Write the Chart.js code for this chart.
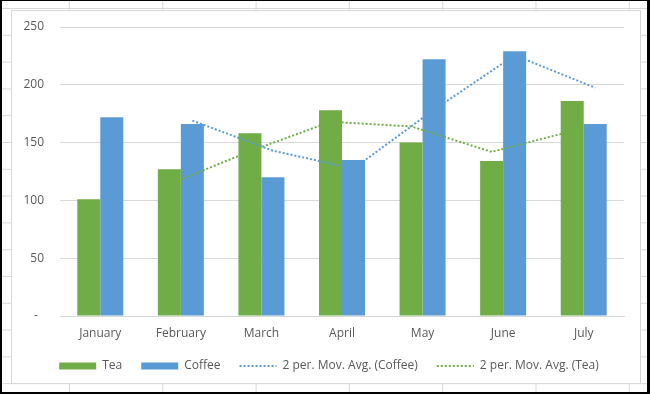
<!DOCTYPE html>
<html>
<head>
<meta charset="utf-8">
<script src="https://cdn.jsdelivr.net/npm/chart.js@4"></script>
<style>
  html, body { margin: 0; padding: 0; background: #fff; }
  #sheet {
    position: absolute; left: 0; top: 0; width: 650px; height: 394px; box-sizing: border-box;
    border-style: solid; border-color: #000; border-width: 1px 3px 2px 2px;
    background-color: #fff;
    background-image: linear-gradient(to right, #d8d8d8 1px, transparent 1px),
                      linear-gradient(to bottom, #d8d8d8 1px, transparent 1px);
    background-size: 93.3px 26.8px;
    background-position: 67px 7px;
  }
  #box {
    position: absolute; left: 11px; top: 10px; width: 628px; height: 372px;
    background: #fff; border: 1px solid #d9d9d9;
  }
  #c { position: absolute; left: 0; top: 0; }
</style>
</head>
<body>
<div id="sheet"></div>
<div id="box"><canvas id="c" width="628" height="372"></canvas></div>
<script>
const categories = ['January', 'February', 'March', 'April', 'May', 'June', 'July'];
const tea = [101, 127, 158, 178, 150, 134, 186];
const coffee = [172, 166, 120, 135, 222, 229, 166];
// 2-period moving averages as read from the dotted trendlines (February..July)
const maCoffee = [null, 169, 143, 127.5, 178.5, 225.5, 197.5];
const maTea = [null, 114, 142.5, 168, 164, 142, 160];
const yTicks = [0, 50, 100, 150, 200, 250];

const GREEN = '#70AD47';
const BLUE = '#5B9BD5';
const TEXT = '#595959';
const GRID = '#d9d9d9';
const groupFrac = 0.571;

// Excel draws each trendline through the centres of its own series' bars:
// move every line point onto the x of the matching bar element.
const alignLines = {
  id: 'alignLines',
  afterLayout(chart) {
    // legend is centred on the whole chart box in the original
    if (chart.legend) { chart.legend.left += 11; chart.legend.right += 11; }
  },
  afterDatasetsUpdate(chart) {
    chart.data.datasets.forEach((ds, k) => {
      if (ds.type !== 'line' || ds.followBar === undefined) return;
      const barMeta = chart.getDatasetMeta(ds.followBar);
      const lineMeta = chart.getDatasetMeta(k);
      lineMeta.data.forEach((pt, i) => {
        const b = barMeta.data[i];
        if (b) pt.x = b.x;
      });
    });
  }
};

Chart.defaults.font.family = '"Open Sans", Lato, sans-serif';
Chart.defaults.font.size = 12;
Chart.defaults.color = TEXT;

const defaultLabels = Chart.defaults.plugins.legend.labels.generateLabels;

new Chart(document.getElementById('c'), {
  data: {
    labels: categories,
    datasets: [
      { type: 'bar', label: 'Tea', data: tea, backgroundColor: GREEN, borderWidth: 0,
        categoryPercentage: groupFrac, barPercentage: 1, order: 2 },
      { type: 'bar', label: 'Coffee', data: coffee, backgroundColor: BLUE, borderWidth: 0,
        categoryPercentage: groupFrac, barPercentage: 1, order: 2 },
      { type: 'line', label: '2 per. Mov. Avg. (Coffee)', data: maCoffee, followBar: 1,
        borderColor: BLUE, backgroundColor: BLUE, borderWidth: 2, borderDash: [2, 2],
        pointRadius: 0, fill: false, tension: 0, order: 1 },
      { type: 'line', label: '2 per. Mov. Avg. (Tea)', data: maTea, followBar: 0,
        borderColor: GREEN, backgroundColor: GREEN, borderWidth: 2, borderDash: [2, 2],
        pointRadius: 0, fill: false, tension: 0, order: 1 }
    ]
  },
  plugins: [alignLines],
  options: {
    responsive: false,
    animation: false,
    layout: { padding: { left: 0, right: 16, top: 16, bottom: 1 } },
    plugins: {
      tooltip: { enabled: false },
      legend: {
        position: 'bottom',
        labels: {
          usePointStyle: true, pointStyleWidth: 37, boxHeight: 7, padding: 19,
          color: TEXT, font: { size: 12 },
          sort: (a, b) => a.datasetIndex - b.datasetIndex,
          generateLabels: (chart) => {
            const items = defaultLabels(chart);
            items.forEach(it => {
              const ds = chart.data.datasets[it.datasetIndex];
              if (ds.type === 'line') {
                it.pointStyle = 'line';
                it.lineDash = ds.borderDash;
                it.lineWidth = ds.borderWidth;
                it.strokeStyle = ds.borderColor;
              } else {
                it.pointStyle = 'rect';
                it.fillStyle = ds.backgroundColor;
                it.lineWidth = 0;
              }
            });
            return items;
          }
        }
      }
    },
    scales: {
      x: {
        type: 'category',
        grid: { display: false, drawTicks: false },
        border: { display: true, color: GRID, width: 1 },
        ticks: { padding: 10, color: TEXT },
        afterFit: (s) => { s.height = 25; }
      },
      y: {
        min: 0, max: 250,
        afterBuildTicks: (s) => { s.ticks = yTicks.map(v => ({ value: v })); },
        afterFit: (s) => { s.width = 48; },
        grid: { color: GRID, drawTicks: true, tickLength: 12, tickColor: 'rgba(0,0,0,0)' },
        border: { display: false },
        ticks: { padding: 4, color: TEXT, callback: (v) => v === 0 ? '-  ' : String(v) }
      }
    }
  }
});
</script>
</body>
</html>
